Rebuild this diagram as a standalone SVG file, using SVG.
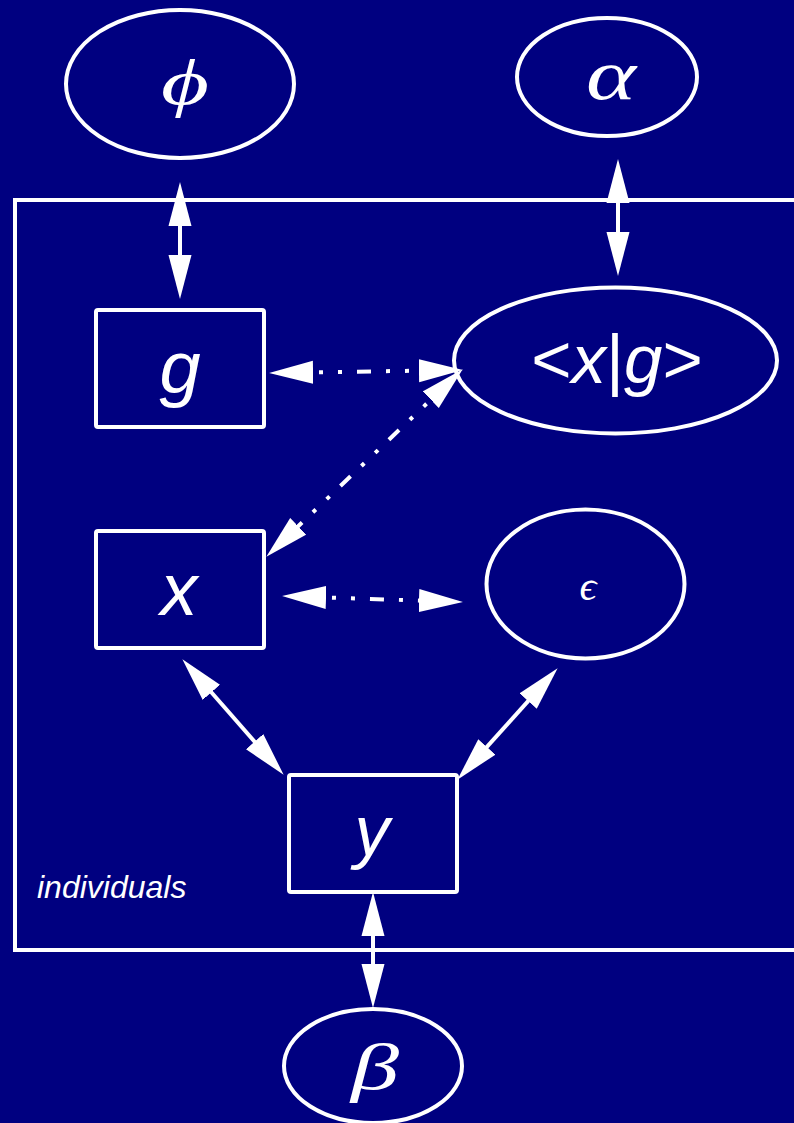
<svg xmlns="http://www.w3.org/2000/svg" width="794" height="1123" viewBox="0 0 794 1123">
<defs>
<marker id="ah" markerUnits="userSpaceOnUse" markerWidth="44" markerHeight="24" viewBox="0 0 42 22" refX="22" refY="11" orient="auto-start-reverse">
<path d="M0,0 L42,11 L0,22 z" fill="#fff"/>
</marker>
</defs>
<style>
.n{fill:none;stroke:#fff;stroke-width:4}
.c{fill:none;stroke:#fff;stroke-width:4;marker-start:url(#ah);marker-end:url(#ah)}
.d{stroke-dasharray:14 15 4 15 4 15}
.gr{font-family:"Liberation Serif","DejaVu Serif",serif;font-style:italic;fill:#fff;text-anchor:middle}
.sa{font-family:"Liberation Sans",Arial,sans-serif;fill:#fff;text-anchor:middle}
</style>
<rect width="794" height="1123" fill="#000080"/>
<g id="plate">
<rect class="n" x="15" y="200" width="800" height="750"/>
<text x="37" y="898" font-family="Liberation Sans,Arial,sans-serif" font-style="italic" font-size="32" fill="#fff">individuals</text>
</g>
<g id="connectors">
<path class="c" d="M180,203 L180,278"/>
<path class="c" d="M618,180 L618,255"/>
<path class="c d" d="M290,372.7 L442,370.3"/>
<path class="c d" d="M447.5,383.8 L281.5,542.2"/>
<path class="c d" d="M303,596.7 L442,601.3"/>
<path class="c" d="M196.2,675 L269.8,759"/>
<path class="c" d="M543.6,683.9 L471.4,764.1"/>
<path class="c" d="M373,913 L373,987"/>
</g>
<g id="phi">
<ellipse class="n" cx="180" cy="84" rx="114" ry="74"/>
<text class="gr" x="185" y="104" font-size="64" textLength="48" lengthAdjust="spacingAndGlyphs">ϕ</text>
</g>
<g id="alpha">
<ellipse class="n" cx="607" cy="77" rx="90" ry="59"/>
<text class="gr" x="611" y="99" font-size="72" textLength="50" lengthAdjust="spacingAndGlyphs">α</text>
</g>
<g id="g">
<rect class="n" x="96" y="310" width="168" height="117" rx="2"/>
<text class="sa" x="180" y="393" font-size="74" font-style="italic">g</text>
</g>
<g id="xg">
<ellipse class="n" cx="615.5" cy="360.5" rx="161.5" ry="73"/>
<text class="sa" x="617" y="383" font-size="69">&lt;<tspan font-style="italic">x</tspan>|<tspan font-style="italic">g</tspan>&gt;</text>
</g>
<g id="x">
<rect class="n" x="96" y="531" width="168" height="117" rx="2"/>
<text class="sa" x="179" y="615" font-size="74" font-style="italic">x</text>
</g>
<g id="epsilon">
<ellipse class="n" cx="585.5" cy="584" rx="99" ry="74.5"/>
<text class="gr" x="588" y="600" font-size="42">ϵ</text>
</g>
<g id="y">
<rect class="n" x="289" y="775" width="168" height="117" rx="2"/>
<text class="sa" x="372" y="855" font-size="70" font-style="italic">y</text>
</g>
<g id="beta">
<ellipse class="n" cx="373" cy="1066" rx="89" ry="57"/>
<text class="gr" x="375" y="1089" font-size="66" textLength="48" lengthAdjust="spacingAndGlyphs">β</text>
</g>
</svg>
